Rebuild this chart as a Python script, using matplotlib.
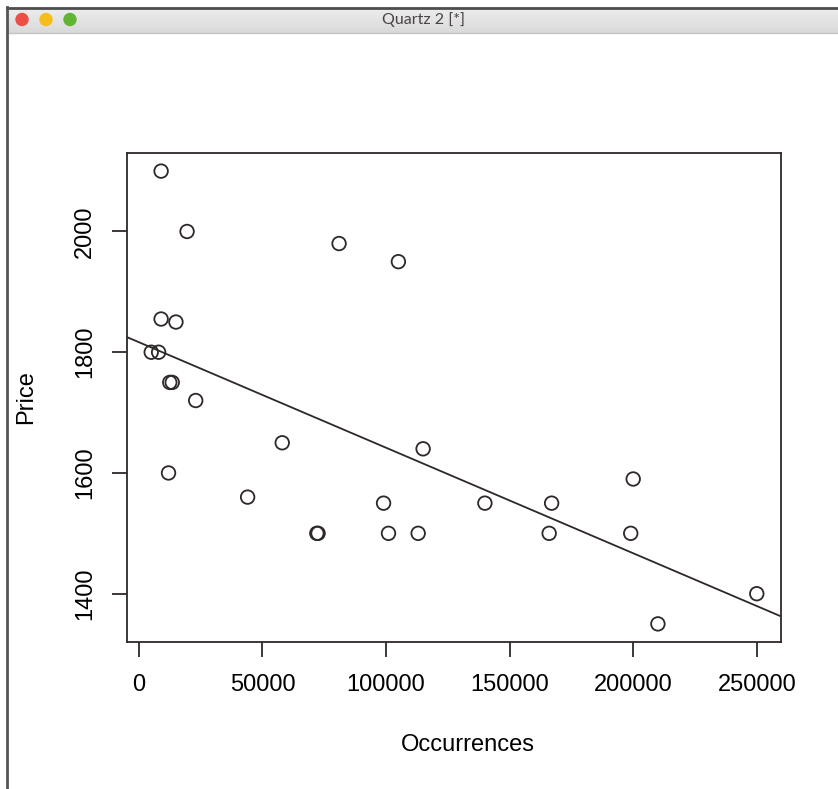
import matplotlib
matplotlib.use("Agg")
import matplotlib.pyplot as plt
import numpy as np
from matplotlib.patches import Circle

# data
occurrences = [9000, 19500, 81000, 105000, 9000, 15000, 5000, 8000, 12500, 13500,
               23000, 12000, 58000, 44000, 72000, 72500, 99000, 101000, 113000,
               115000, 140000, 167000, 166000, 200000, 199000, 250000, 210000]
price = [2100, 2000, 1980, 1950, 1855, 1850, 1800, 1800, 1750, 1750,
         1720, 1600, 1650, 1560, 1500, 1500, 1550, 1500, 1500,
         1640, 1550, 1550, 1500, 1590, 1500, 1400, 1350]
x_ticks = [0, 50000, 100000, 150000, 200000, 250000]
y_ticks = [1400, 1600, 1800, 2000]

plt.rcParams['font.family'] = ['Liberation Sans', 'DejaVu Sans']

W, H = 838, 789
fig = plt.figure(figsize=(W / 100, H / 100), dpi=100)
fig.patch.set_facecolor('white')

# window chrome (Quartz title bar)
def fx(px):
    return px / W

def fy(py):
    return 1 - py / H

grad = np.linspace(0.93, 0.85, 50).reshape(-1, 1)
bar_ax = fig.add_axes([fx(7), fy(33), 1 - fx(7), (33 - 8) / H])
bar_ax.imshow(grad, cmap='gray', vmin=0, vmax=1, aspect='auto', extent=[0, 1, 0, 1])
bar_ax.set_axis_off()
fig.add_artist(plt.Line2D([fx(7), 1], [fy(7.5), fy(7.5)], color='#4d4d4d', lw=2.0))
fig.add_artist(plt.Line2D([fx(7), 1], [fy(33), fy(33)], color='#c4c4c4', lw=1.0))
fig.add_artist(plt.Line2D([fx(7), fx(7)], [0, fy(7)], color='#555555', lw=2.0))
for cx, col in [(22, '#ec4f45'), (46, '#f6bd1b'), (70, '#62b533')]:
    fig.add_artist(Circle((cx, H - 19.5), 6.7, transform=None, facecolor=col,
                          edgecolor='none'))
fig.text(fx(424), fy(20), 'Quartz 2 [*]', ha='center', va='center',
         fontsize=11.5, color='#4a4444', family=['Lato', 'DejaVu Sans'])

# plot region
ax = fig.add_axes([fx(127), fy(642), (781 - 127) / W, (642 - 153) / H])
ink = '#2e2828'
ax.scatter(occurrences, price, s=95, facecolors='none', edgecolors=ink,
           linewidths=1.3, zorder=3)

slope, intercept = np.polyfit(occurrences, price, 1)

xr = max(occurrences) - min(occurrences)
yr = max(price) - min(price)
xlo, xhi = min(occurrences) - 0.04 * xr, max(occurrences) + 0.04 * xr
ylo, yhi = min(price) - 0.04 * yr, max(price) + 0.04 * yr
ax.set_xlim(xlo, xhi)
ax.set_ylim(ylo, yhi)
xs = np.array([xlo, xhi])
ax.plot(xs, intercept + slope * xs, color=ink, lw=1.3, zorder=2)

for sp in ax.spines.values():
    sp.set_color(ink)
    sp.set_linewidth(1.3)
ax.set_xticks(x_ticks)
ax.set_xticklabels([str(v) for v in x_ticks])
ax.set_yticks(y_ticks)
ax.set_yticklabels([str(v) for v in y_ticks], rotation=90, va='center')
ax.tick_params(axis='both', direction='out', length=11, width=1.3, color=ink,
               labelsize=17)
ax.tick_params(axis='x', pad=12)
ax.tick_params(axis='y', pad=11.5)

fig.text(fx(468), fy(745), 'Occurrences', ha='center', va='center', fontsize=17)
fig.text(fx(26), fy(397), 'Price', ha='center', va='center', fontsize=17,
         rotation=90)

fig.savefig('out.png', dpi=100)
